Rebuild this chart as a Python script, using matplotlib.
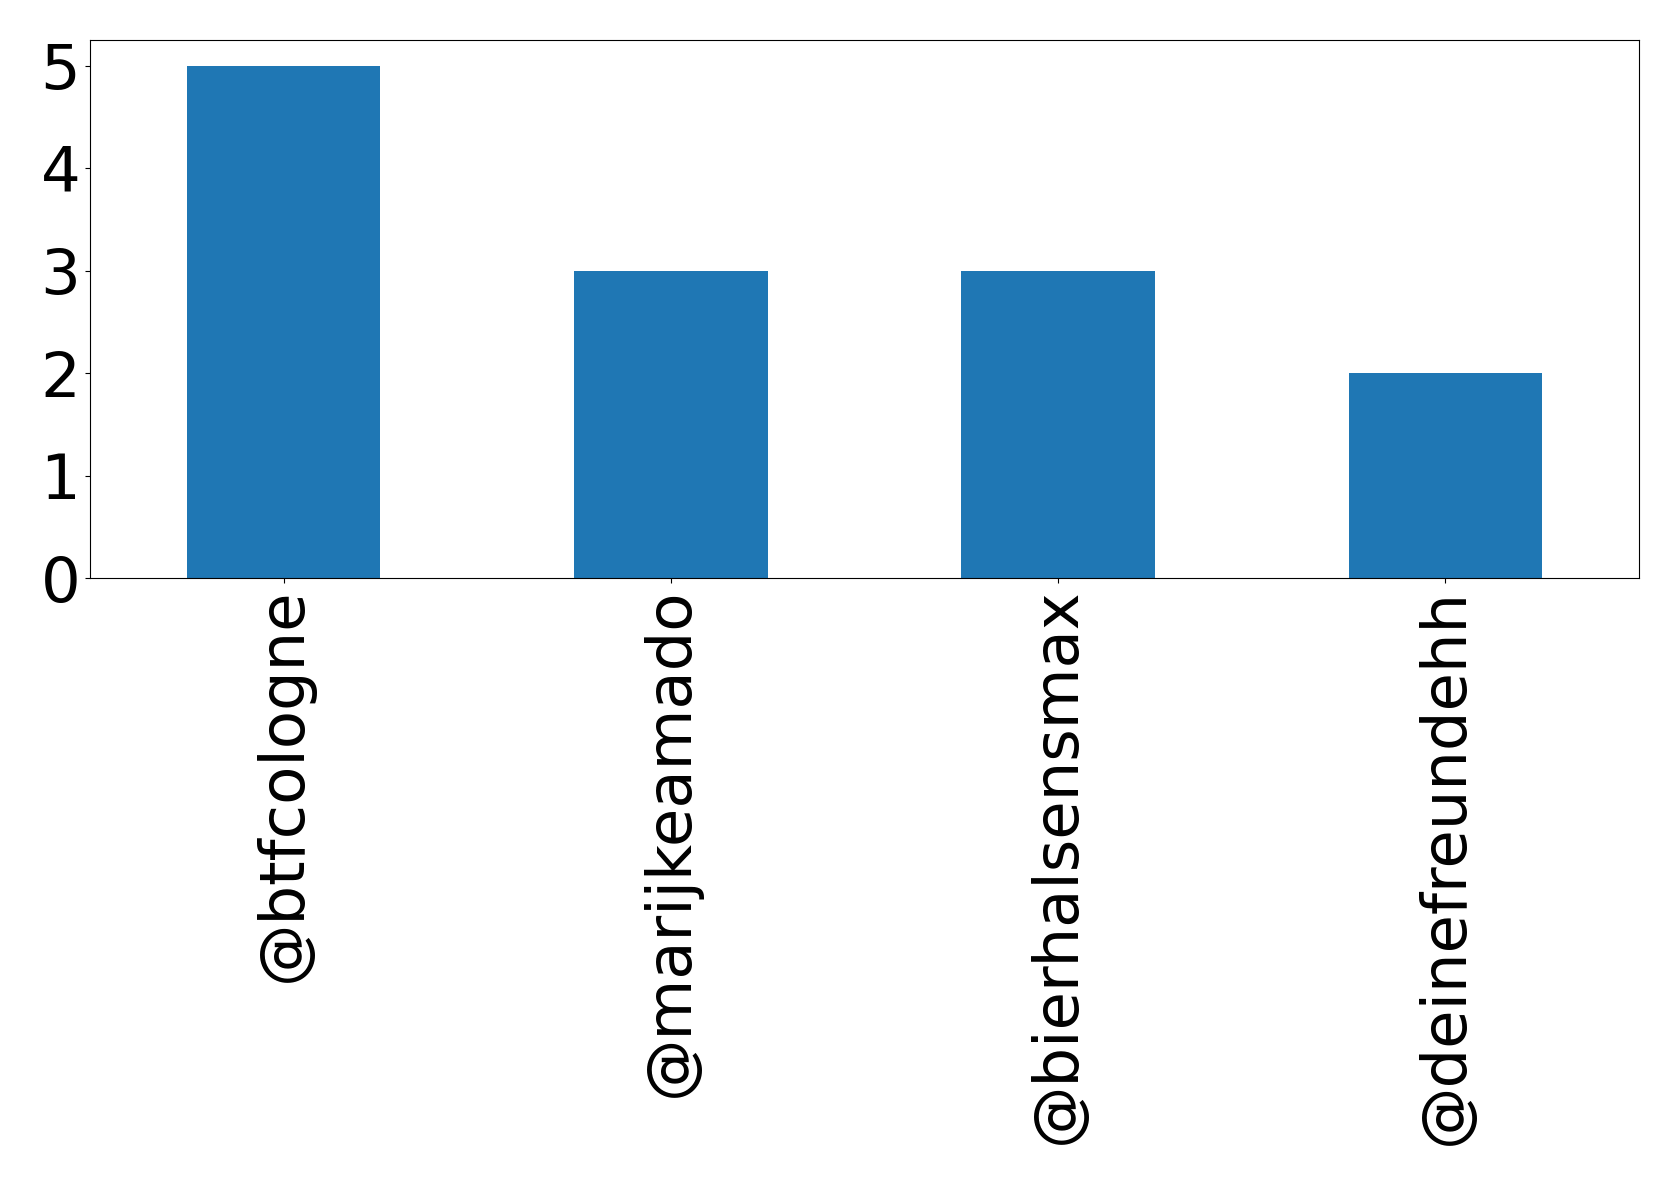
import matplotlib
matplotlib.use("Agg")
import matplotlib.pyplot as plt
import pandas as pd

# accounts and how often they show up
accounts = ["@btfcologne", "@marijkeamado", "@bierhalsensmax", "@deinefreundehh"]
counts = [5, 3, 3, 2]

series = pd.Series(counts, index=accounts)

fig = plt.figure(figsize=(16.79, 11.85), dpi=100)
ax = fig.add_axes([90 / 1679, 1 - 578 / 1185, (1639 - 90) / 1679, (578 - 40) / 1185])
series.plot(kind="bar", ax=ax, color="#1f77b4")
ax.tick_params(axis="both", labelsize=45)
ax.set_yticks([0, 1, 2, 3, 4, 5])

fig.savefig("out.png", dpi=100)
